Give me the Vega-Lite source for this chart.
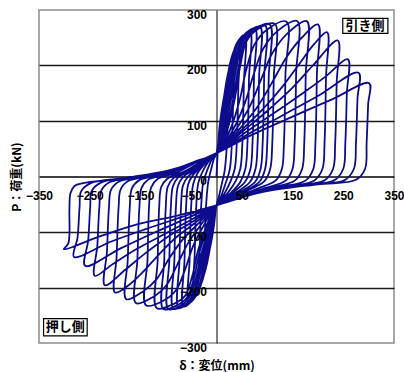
{
"$schema": "https://vega.github.io/schema/vega-lite/v6.json",
"width": 355, "height": 333,
"autosize": {"type": "none"},
"padding": {"left": 39, "top": 10, "right": 10, "bottom": 29},
"background": "white",
"config": {
  "view": {"stroke": "#8c8c8c", "strokeWidth": 1.5},
  "axis": {"labelFont": "Liberation Sans", "labelFontSize": 12, "labelFontWeight": "bold", "labelColor": "black", "titleFont": "Noto Sans CJK JP", "titleFontSize": 12, "titleFontWeight": "bold", "titleColor": "black"}
},
"resolve": {"axis": {"x": "independent", "y": "independent"}},
"layer": [
{
  "data": {"values": [
{"x":0,"y":0},
{"x":6,"y":90},{"x":13,"y":135},{"x":19,"y":160},{"x":25,"y":175},{"x":23,"y":120},{"x":20,"y":50},{"x":16,"y":10},{"x":10,"y":-15},{"x":5,"y":-35},{"x":0,"y":-52},
{"x":-6,"y":-95},{"x":-13,"y":-130},{"x":-19,"y":-150},{"x":-25,"y":-160},{"x":-23,"y":-110},{"x":-20,"y":-45},{"x":-16,"y":-8},{"x":-10,"y":15},{"x":-5,"y":32},{"x":0,"y":42},
{"x":7,"y":90},{"x":15,"y":145},{"x":24,"y":190},{"x":35,"y":215},{"x":33,"y":140},{"x":30,"y":55},{"x":26,"y":12},{"x":18,"y":-12},{"x":8,"y":-38},{"x":0,"y":-52},
{"x":-7,"y":-95},{"x":-15,"y":-140},{"x":-24,"y":-175},{"x":-35,"y":-195},{"x":-33,"y":-130},{"x":-30,"y":-50},{"x":-26,"y":-10},{"x":-18,"y":12},{"x":-8,"y":33},{"x":0,"y":42},
{"x":8,"y":90},{"x":17,"y":150},{"x":27,"y":205},{"x":36,"y":230},{"x":45,"y":240},{"x":43,"y":160},{"x":40,"y":60},{"x":36,"y":14},{"x":28,"y":-8},{"x":15,"y":-32},{"x":0,"y":-52},
{"x":-8,"y":-95},{"x":-17,"y":-145},{"x":-27,"y":-185},{"x":-36,"y":-205},{"x":-45,"y":-215},{"x":-43,"y":-140},{"x":-40,"y":-55},{"x":-36,"y":-12},{"x":-28,"y":8},{"x":-15,"y":28},{"x":0,"y":42},
{"x":9,"y":90},{"x":19,"y":150},{"x":29,"y":205},{"x":40,"y":240},{"x":56,"y":255},{"x":54,"y":170},{"x":51,"y":60},{"x":47,"y":14},{"x":38,"y":-8},{"x":22,"y":-30},{"x":0,"y":-52},
{"x":-9,"y":-95},{"x":-19,"y":-145},{"x":-29,"y":-190},{"x":-40,"y":-215},{"x":-55,"y":-228},{"x":-53,"y":-150},{"x":-50,"y":-55},{"x":-46,"y":-14},{"x":-38,"y":5},{"x":-20,"y":26},{"x":0,"y":42},
{"x":10,"y":85},{"x":21,"y":145},{"x":32,"y":205},{"x":44,"y":243},{"x":66,"y":262},{"x":64,"y":175},{"x":61,"y":60},{"x":57,"y":14},{"x":47,"y":-10},{"x":30,"y":-28},{"x":12,"y":-42},{"x":0,"y":-52},
{"x":-10,"y":-95},{"x":-21,"y":-140},{"x":-32,"y":-190},{"x":-45,"y":-220},{"x":-65,"y":-234},{"x":-63,"y":-150},{"x":-60,"y":-55},{"x":-56,"y":-15},{"x":-47,"y":2},{"x":-30,"y":18},{"x":-12,"y":35},{"x":0,"y":42},
{"x":12,"y":85},{"x":24,"y":145},{"x":35,"y":205},{"x":48,"y":245},{"x":60,"y":260},{"x":76,"y":267},{"x":74,"y":180},{"x":71,"y":60},{"x":67,"y":14},{"x":56,"y":-10},{"x":35,"y":-27},{"x":14,"y":-42},{"x":0,"y":-52},
{"x":-12,"y":-95},{"x":-24,"y":-140},{"x":-36,"y":-190},{"x":-49,"y":-222},{"x":-62,"y":-233},{"x":-75,"y":-237},{"x":-73,"y":-150},{"x":-70,"y":-55},{"x":-66,"y":-16},{"x":-56,"y":0},{"x":-35,"y":15},{"x":-14,"y":34},{"x":0,"y":42},
{"x":14,"y":85},{"x":27,"y":145},{"x":38,"y":205},{"x":51,"y":247},{"x":66,"y":263},{"x":86,"y":270},{"x":84,"y":180},{"x":81,"y":60},{"x":77,"y":14},{"x":66,"y":-10},{"x":42,"y":-27},{"x":16,"y":-43},{"x":0,"y":-52},
{"x":-14,"y":-95},{"x":-27,"y":-140},{"x":-39,"y":-190},{"x":-52,"y":-222},{"x":-67,"y":-234},{"x":-85,"y":-238},{"x":-83,"y":-150},{"x":-80,"y":-55},{"x":-76,"y":-17},{"x":-66,"y":-1},{"x":-40,"y":14},{"x":-16,"y":33},{"x":0,"y":42},
{"x":16,"y":85},{"x":30,"y":145},{"x":41,"y":205},{"x":54,"y":248},{"x":72,"y":265},{"x":96,"y":272},{"x":94,"y":180},{"x":91,"y":60},{"x":87,"y":14},{"x":76,"y":-10},{"x":50,"y":-26},{"x":20,"y":-42},{"x":0,"y":-52},
{"x":-16,"y":-95},{"x":-30,"y":-140},{"x":-42,"y":-188},{"x":-55,"y":-220},{"x":-73,"y":-234},{"x":-95,"y":-239},{"x":-93,"y":-150},{"x":-90,"y":-55},{"x":-86,"y":-18},{"x":-76,"y":-2},{"x":-48,"y":12},{"x":-20,"y":32},{"x":0,"y":42},
{"x":18,"y":82},{"x":33,"y":140},{"x":44,"y":200},{"x":57,"y":246},{"x":78,"y":267},{"x":105,"y":274},{"x":103,"y":180},{"x":100,"y":60},{"x":96,"y":14},{"x":85,"y":-9},{"x":58,"y":-25},{"x":22,"y":-42},{"x":0,"y":-52},
{"x":-18,"y":-92},{"x":-33,"y":-135},{"x":-45,"y":-185},{"x":-58,"y":-218},{"x":-80,"y":-233},{"x":-105,"y":-239},{"x":-103,"y":-150},{"x":-100,"y":-55},{"x":-96,"y":-18},{"x":-85,"y":-3},{"x":-55,"y":11},{"x":-22,"y":31},{"x":0,"y":42},
{"x":20,"y":80},{"x":36,"y":140},{"x":47,"y":200},{"x":60,"y":245},{"x":84,"y":267},{"x":115,"y":275},{"x":113,"y":180},{"x":110,"y":60},{"x":106,"y":14},{"x":95,"y":-8},{"x":65,"y":-24},{"x":25,"y":-42},{"x":0,"y":-52},
{"x":-20,"y":-90},{"x":-36,"y":-132},{"x":-48,"y":-180},{"x":-62,"y":-215},{"x":-88,"y":-231},{"x":-118,"y":-237},{"x":-116,"y":-150},{"x":-113,"y":-55},{"x":-109,"y":-19},{"x":-97,"y":-4},{"x":-62,"y":10},{"x":-25,"y":30},{"x":0,"y":42},
{"x":25,"y":80},{"x":45,"y":135},{"x":58,"y":190},{"x":75,"y":238},{"x":100,"y":265},{"x":138,"y":279},{"x":136,"y":185},{"x":133,"y":60},{"x":129,"y":14},{"x":117,"y":-7},{"x":80,"y":-22},{"x":35,"y":-38},{"x":0,"y":-52},
{"x":-25,"y":-88},{"x":-46,"y":-125},{"x":-62,"y":-168},{"x":-80,"y":-205},{"x":-105,"y":-224},{"x":-139,"y":-232},{"x":-136,"y":-150},{"x":-133,"y":-55},{"x":-129,"y":-20},{"x":-117,"y":-5},{"x":-78,"y":7},{"x":-35,"y":28},{"x":0,"y":42},
{"x":30,"y":80},{"x":55,"y":130},{"x":72,"y":180},{"x":92,"y":230},{"x":120,"y":262},{"x":159,"y":280},{"x":157,"y":185},{"x":154,"y":60},{"x":150,"y":14},{"x":137,"y":-7},{"x":95,"y":-21},{"x":45,"y":-36},{"x":0,"y":-52},
{"x":-30,"y":-86},{"x":-56,"y":-120},{"x":-78,"y":-160},{"x":-98,"y":-195},{"x":-125,"y":-217},{"x":-159,"y":-228},{"x":-156,"y":-150},{"x":-152,"y":-55},{"x":-148,"y":-21},{"x":-135,"y":-6},{"x":-90,"y":6},{"x":-40,"y":27},{"x":0,"y":42},
{"x":35,"y":80},{"x":65,"y":125},{"x":88,"y":175},{"x":110,"y":222},{"x":140,"y":258},{"x":178,"y":280},{"x":176,"y":185},{"x":173,"y":60},{"x":169,"y":14},{"x":155,"y":-7},{"x":110,"y":-20},{"x":55,"y":-34},{"x":0,"y":-52},
{"x":-35,"y":-84},{"x":-68,"y":-115},{"x":-95,"y":-150},{"x":-118,"y":-185},{"x":-145,"y":-207},{"x":-178,"y":-221},{"x":-175,"y":-150},{"x":-171,"y":-55},{"x":-167,"y":-22},{"x":-153,"y":-7},{"x":-100,"y":5},{"x":-45,"y":26},{"x":0,"y":42},
{"x":40,"y":80},{"x":78,"y":122},{"x":110,"y":170},{"x":138,"y":215},{"x":168,"y":250},{"x":200,"y":274},{"x":198,"y":185},{"x":195,"y":60},{"x":191,"y":14},{"x":176,"y":-7},{"x":125,"y":-19},{"x":60,"y":-33},{"x":0,"y":-52},
{"x":-40,"y":-82},{"x":-80,"y":-110},{"x":-115,"y":-142},{"x":-145,"y":-172},{"x":-172,"y":-195},{"x":-200,"y":-209},{"x":-197,"y":-145},{"x":-193,"y":-55},{"x":-189,"y":-23},{"x":-174,"y":-8},{"x":-115,"y":3},{"x":-50,"y":24},{"x":0,"y":42},
{"x":45,"y":80},{"x":90,"y":120},{"x":130,"y":162},{"x":165,"y":205},{"x":192,"y":238},{"x":218,"y":260},{"x":216,"y":180},{"x":213,"y":60},{"x":209,"y":14},{"x":193,"y":-7},{"x":140,"y":-18},{"x":65,"y":-32},{"x":0,"y":-52},
{"x":-45,"y":-80},{"x":-95,"y":-108},{"x":-140,"y":-138},{"x":-180,"y":-168},{"x":-220,"y":-196},{"x":-216,"y":-135},{"x":-212,"y":-55},{"x":-208,"y":-24},{"x":-192,"y":-9},{"x":-130,"y":1},{"x":-55,"y":22},{"x":0,"y":42},
{"x":50,"y":80},{"x":100,"y":118},{"x":150,"y":160},{"x":190,"y":200},{"x":239,"y":245},{"x":237,"y":170},{"x":234,"y":60},{"x":230,"y":14},{"x":213,"y":-7},{"x":155,"y":-17},{"x":70,"y":-31},{"x":0,"y":-52},
{"x":-50,"y":-78},{"x":-105,"y":-105},{"x":-160,"y":-132},{"x":-205,"y":-158},{"x":-240,"y":-179},{"x":-235,"y":-125},{"x":-231,"y":-55},{"x":-227,"y":-25},{"x":-210,"y":-10},{"x":-145,"y":0},{"x":-60,"y":20},{"x":0,"y":42},
{"x":55,"y":78},{"x":110,"y":112},{"x":170,"y":150},{"x":215,"y":180},{"x":259,"y":211},{"x":257,"y":150},{"x":254,"y":60},{"x":250,"y":14},{"x":232,"y":-7},{"x":170,"y":-16},{"x":75,"y":-30},{"x":0,"y":-52},
{"x":-60,"y":-76},{"x":-120,"y":-100},{"x":-190,"y":-130},{"x":-259,"y":-161},{"x":-253,"y":-115},{"x":-249,"y":-55},{"x":-246,"y":-26},{"x":-228,"y":-11},{"x":-160,"y":-1},{"x":-65,"y":18},{"x":0,"y":42},
{"x":60,"y":75},{"x":130,"y":110},{"x":200,"y":145},{"x":280,"y":187},{"x":278,"y":140},{"x":275,"y":60},{"x":271,"y":14},{"x":252,"y":-7},{"x":185,"y":-15},{"x":80,"y":-29},{"x":0,"y":-52},
{"x":-65,"y":-72},{"x":-140,"y":-95},{"x":-210,"y":-118},{"x":-281,"y":-145},{"x":-274,"y":-110},{"x":-270,"y":-55},{"x":-267,"y":-27},{"x":-248,"y":-12},{"x":-175,"y":-2},{"x":-70,"y":16},{"x":0,"y":42},
{"x":70,"y":75},{"x":150,"y":108},{"x":230,"y":140},{"x":301,"y":168},{"x":299,"y":130},{"x":296,"y":60},{"x":293,"y":14},{"x":275,"y":-6},{"x":200,"y":-14},{"x":90,"y":-28},{"x":0,"y":-52},
{"x":-75,"y":-70},{"x":-155,"y":-86},{"x":-230,"y":-108},{"x":-301,"y":-131},{"x":-292,"y":-120},{"x":-290,"y":-60},{"x":-288,"y":-30},{"x":-280,"y":-17},{"x":-263,"y":-12},{"x":-190,"y":-4},{"x":-80,"y":12},{"x":0,"y":42}
  ]},
  "mark": {"type": "line", "color": "#0c0c8c", "strokeWidth": 1.8, "interpolate": "catmull-rom", "clip": true},
  "encoding": {
    "x": {"field": "x", "type": "quantitative", "scale": {"domain": [-350, 350], "nice": false, "zero": false},
      "axis": {"orient": "bottom", "title": "δ：変位(mm)", "titlePadding": 17, "labels": false, "ticks": false, "domain": false, "grid": false}},
    "y": {"field": "y", "type": "quantitative", "scale": {"domain": [-300, 300], "nice": false, "zero": false},
      "axis": {"orient": "left", "title": "P：荷重(kN)", "titlePadding": 16, "labels": false, "ticks": false, "domain": false, "grid": true, "values": [-200, -100, 100, 200], "gridColor": "#1a1a1a", "gridWidth": 1.5, "gridOpacity": 1}},
    "order": {"value": null}
  }
},
{
  "data": {"values": [
    {"label": "引き側", "cx": 293, "cy": 271, "x1": 249, "x2": 338, "y1": 258, "y2": 285},
    {"label": "押し側", "cx": -298, "cy": -272, "x1": -341, "x2": -255, "y1": -256, "y2": -287}
  ]},
  "mark": {"type": "rect", "fill": "white", "stroke": "black", "strokeWidth": 1.2},
  "encoding": {
    "x": {"field": "x1", "type": "quantitative", "scale": {"domain": [-350, 350], "nice": false, "zero": false},
      "axis": {"orient": "bottom", "offset": -166.5, "title": null, "labels": false, "ticks": false, "grid": false, "domain": true, "domainColor": "black", "domainWidth": 1.5}},
    "x2": {"field": "x2"},
    "y": {"field": "y1", "type": "quantitative", "scale": {"domain": [-300, 300], "nice": false, "zero": false},
      "axis": {"orient": "left", "offset": -177.5, "title": null, "labels": false, "ticks": false, "grid": false, "domain": true, "domainColor": "black", "domainWidth": 1}},
    "y2": {"field": "y2"}
  }
},
{
  "data": {"values": [
    {"label": "引き側", "cx": 293, "cy": 271},
    {"label": "押し側", "cx": -298, "cy": -272}
  ]},
  "mark": {"type": "text", "font": "Noto Sans CJK JP", "fontSize": 13, "fontWeight": "bold", "color": "black", "baseline": "middle", "align": "center"},
  "encoding": {
    "x": {"field": "cx", "type": "quantitative", "scale": {"domain": [-350, 350], "nice": false, "zero": false},
      "axis": {"orient": "bottom", "offset": -166.5, "title": null, "values": [-350, -250, -150, -50, 50, 150, 250, 350], "ticks": false, "domain": false, "grid": false, "labelPadding": 14, "labelFlush": false, "labelOverlap": false, "zindex": 1}},
    "y": {"field": "cy", "type": "quantitative", "scale": {"domain": [-300, 300], "nice": false, "zero": false},
      "axis": {"orient": "left", "offset": -177.5, "title": null, "values": [-300, -200, -100, 0, 100, 200, 300], "ticks": false, "domain": false, "grid": false, "labelPadding": 10, "labelOffset": 4, "labelFlush": false, "labelOverlap": false, "zindex": 1}},
    "text": {"field": "label"}
  }
}
]
}
